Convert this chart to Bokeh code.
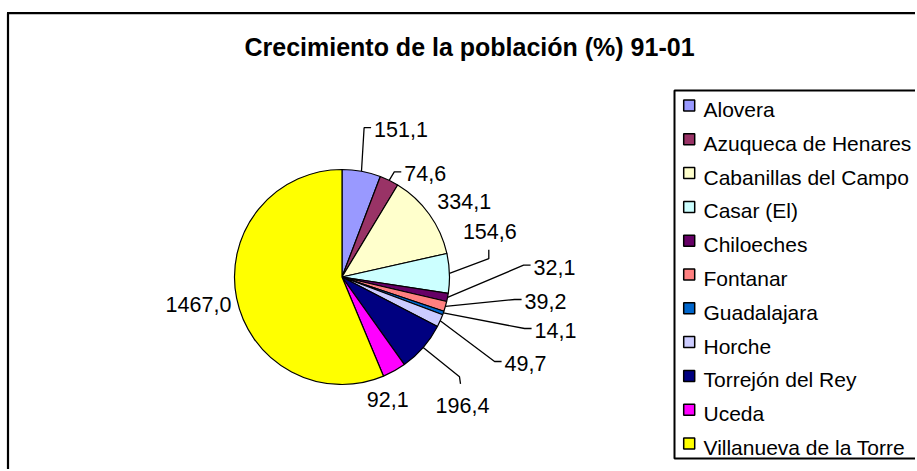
import numpy as np
from bokeh.plotting import figure
from bokeh.models import Range1d, ColumnDataSource
from bokeh.core.properties import value
from bokeh.embed import file_html
from bokeh.resources import INLINE

# ---------------- data ----------------
title_text = "Crecimiento de la población (%) 91-01"
categories = ["Alovera", "Azuqueca de Henares", "Cabanillas del Campo", "Casar (El)",
              "Chiloeches", "Fontanar", "Guadalajara", "Horche", "Torrejón del Rey",
              "Uceda", "Villanueva de la Torre"]
growth = [151.1, 74.6, 334.1, 154.6, 32.1, 39.2, 14.1, 49.7, 196.4, 92.1, 1467.0]
colors = ["#9999FF", "#993366", "#FFFFCC", "#CCFFFF", "#660066", "#FF8080",
          "#0066CC", "#CCCCFF", "#000080", "#FF00FF", "#FFFF00"]

# ---------------- layout ----------------
W, H = 915, 469
FONT = "Liberation Sans"
FS_LABEL = 21.5
FS_LEG = 21
FS_TITLE = 25


def X(px):
    return px


def Y(py):
    return H - py


CX, CY, R = 341.5, 276.5, 107.5
# label text centres (px from top-left) and leader style
label_layout = [
    (400.5, 129.2, "left"),
    (424.7, 173.3, "left"),
    (463.7, 201.3, None),
    (489.3, 231.2, "bottom"),
    (554.0, 266.7, "left"),
    (545.0, 301.0, "left"),
    (555.0, 330.0, "left"),
    (525.0, 363.0, "left"),
    (462.0, 405.3, "top"),
    (387.2, 399.2, None),
    (198.0, 304.0, None),
]

p = figure(width=W, height=H, x_range=Range1d(0, W), y_range=Range1d(0, H),
           output_backend="svg", toolbar_location=None, min_border=0,
           x_axis_location=None, y_axis_location=None)
p.grid.visible = False
p.outline_line_color = None
p.background_fill_color = "white"
p.border_fill_color = "white"

# outer chart frame (left + top visible)
p.segment(x0=[7.5, 6.5], y0=[0, Y(12.7)], x1=[7.5, W], y1=[Y(12.7), Y(12.7)],
          line_color="black", line_width=2.2)

# title
p.text(x=[X(469)], y=[Y(46)], text=[title_text], text_font=value(FONT),
       text_font_size=f"{FS_TITLE}px", text_font_style="bold", text_align="center",
       text_baseline="middle", text_color="black")

# pie
vals = np.array(growth)
frac = vals / vals.sum()
cum = np.concatenate([[0], np.cumsum(frac)])
start = np.pi / 2 - 2 * np.pi * cum[:-1]
end = np.pi / 2 - 2 * np.pi * cum[1:]
mid = (cum[:-1] + cum[1:]) / 2 * 2 * np.pi  # clockwise from top

src = ColumnDataSource(dict(start=start, end=end, color=colors, cat=categories))
p.wedge(x=X(CX), y=Y(CY), radius=R, start_angle="start", end_angle="end",
        direction="clock", fill_color="color", line_color="black", line_width=1.2,
        source=src)

# labels + leaders
labels = [f"{v:.1f}".replace(".", ",") for v in growth]
lx, ly, lxs, lys = [], [], [], []
for i, (txt, (tx, ty, mode)) in enumerate(zip(labels, label_layout)):
    lx.append(X(tx))
    ly.append(Y(ty))
    w = sum(0.556 if ch.isdigit() else 0.278 for ch in txt) * FS_LABEL
    sx = CX + R * np.sin(mid[i])
    sy = CY - R * np.cos(mid[i])
    if mode == "left":
        left = tx - w / 2
        ex, ey = left - 3, ty - 2
        bx, by = left - 10, ey
    elif mode == "bottom":
        ex, ey = tx - 1, ty + 18
        bx, by = ex, ty + 27
    elif mode == "top":
        ex, ey = tx - 2, ty - 22
        bx, by = ex - 1, ty - 29
    else:
        continue
    lxs.append([X(sx), X(bx), X(ex)])
    lys.append([Y(sy), Y(by), Y(ey)])

p.multi_line(xs=lxs, ys=lys, line_color="black", line_width=1.3)
p.text(x=lx, y=ly, text=labels, text_font=value(FONT), text_font_size=f"{FS_LABEL}px",
       text_align="center", text_baseline="middle", text_color="black")

# legend
p.quad(left=[X(674)], right=[W + 20], top=[Y(90)], bottom=[Y(458)],
       fill_color="white", line_color="black", line_width=2)
n = len(categories)
sq_y = [Y(105 + 33.8 * i) for i in range(n)]
tx_y = [Y(109 + 33.8 * i) for i in range(n)]
p.rect(x=[X(688.7)] * n, y=sq_y, width=11, height=11, fill_color=colors,
       line_color="black", line_width=1.5)
p.text(x=[X(703)] * n, y=tx_y, text=categories, text_font=value(FONT),
       text_font_size=f"{FS_LEG}px", text_align="left", text_baseline="middle",
       text_color="black")

open("out.html", "w").write(file_html(p, INLINE))
